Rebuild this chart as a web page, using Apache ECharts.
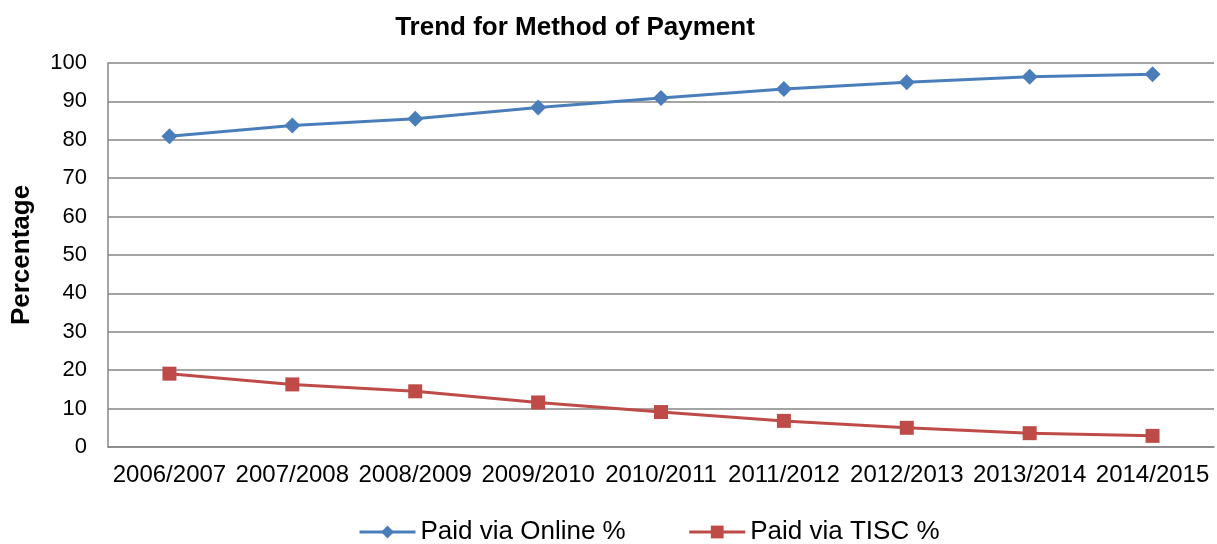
<!DOCTYPE html>
<html>
<head>
<meta charset="utf-8">
<script src="https://cdn.jsdelivr.net/npm/echarts@6/dist/echarts.min.js"></script>
<style>
  html, body { margin: 0; padding: 0; background: #fff; }
  #chart { width: 1217px; height: 544px; }
</style>
</head>
<body>
<div id="chart"></div>
<script>
// Dane
const years = ["2006/2007", "2007/2008", "2008/2009", "2009/2010", "2010/2011",
               "2011/2012", "2012/2013", "2013/2014", "2014/2015"];
const paidOnline = [80.9, 83.7, 85.5, 88.4, 90.9, 93.2, 95.0, 96.4, 97.1];
const paidTisc = [19.1, 16.3, 14.5, 11.6, 9.1, 6.8, 5.0, 3.6, 2.9];

const chart = echarts.init(document.getElementById("chart"));
const font = "'Liberation Sans', Arial, sans-serif";

const option = {
    animation: false,
    title: {
        text: "Trend for Method of Payment",
        left: 570,
        top: 10,
        textAlign: "center",
        textStyle: { fontFamily: font, fontSize: 26, fontWeight: "bold", color: "#000" }
    },
    legend: {
        top: 514,
        left: 353,
        itemWidth: 56,
        itemHeight: 16,
        itemGap: 62,
        lineStyle: { width: 3 },
        textStyle: { fontFamily: font, fontSize: 26, color: "#000" },
        data: ["Paid via Online %", "Paid via TISC %"]
    },
    grid: { left: 108, right: 3, top: 63, bottom: 97, containLabel: false },
    xAxis: {
        type: "category",
        data: years,
        boundaryGap: true,
        axisLine: { lineStyle: { color: "#868686", width: 1.5 } },
        axisTick: { show: false },
        axisLabel: { interval: 0, fontFamily: font, fontSize: 24, color: "#000", margin: 16 }
    },
    yAxis: {
        type: "value",
        min: 0,
        max: 100,
        interval: 10,
        name: "Percentage",
        nameLocation: "middle",
        nameGap: 73,
        nameTextStyle: { fontFamily: font, fontSize: 26, fontWeight: "bold", color: "#000" },
        axisLine: { show: true, lineStyle: { color: "#868686", width: 1.5 } },
        axisTick: { show: false },
        axisLabel: { fontFamily: font, fontSize: 22, color: "#000", margin: 21 },
        splitLine: { lineStyle: { color: "#868686", width: 1.5 } }
    },
    series: [
        {
            name: "Paid via Online %",
            type: "line",
            data: paidOnline,
            symbol: "diamond",
            symbolSize: 16,
            lineStyle: { color: "#4a7ebb", width: 3 },
            itemStyle: { color: "#4a7ebb" }
        },
        {
            name: "Paid via TISC %",
            type: "line",
            data: paidTisc,
            symbol: "rect",
            symbolSize: 14,
            lineStyle: { color: "#be4b48", width: 3 },
            itemStyle: { color: "#be4b48" }
        }
    ]
};

chart.setOption(option);
</script>
</body>
</html>
